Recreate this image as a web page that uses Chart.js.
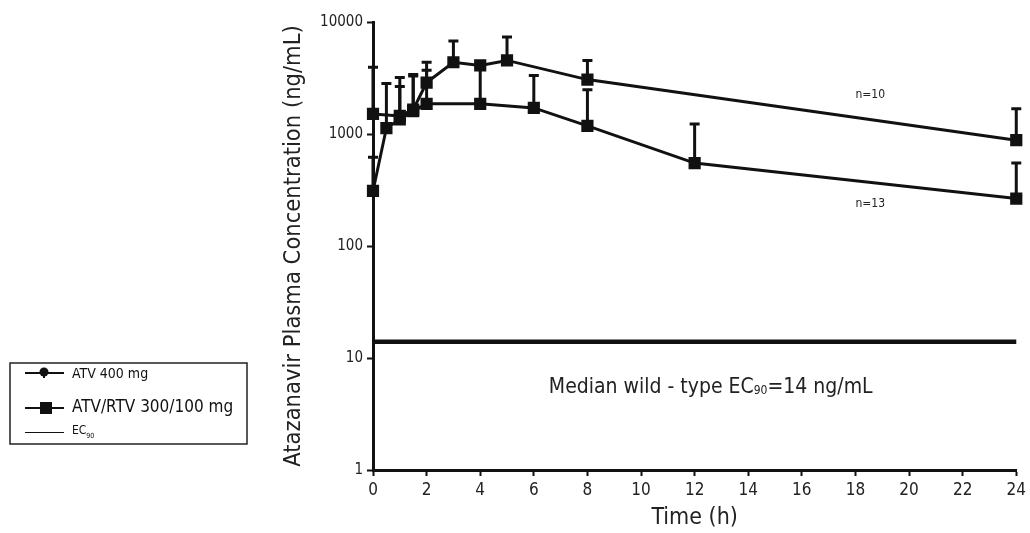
<!DOCTYPE html>
<html lang="en">
<head>
    <meta charset="UTF-8">
    <title>Atazanavir plasma concentration</title>
    <script src="https://cdn.jsdelivr.net/npm/chart.js"></script>
    <style>
        html, body { margin: 0; padding: 0; background: #fff; }
        #wrap { width: 1030px; height: 533px; }
    </style>
</head>
<body>
    <div id="wrap"><canvas id="myChart" width="1030" height="533"></canvas></div>
    <script>
        // ATV 400 mg (lower curve, n=13)
        const atvTimes = [0, 0.5, 1, 1.5, 2, 4, 6, 8, 12, 24]
        const atvMean  = [310, 1130, 1350, 1600, 1860, 1860, 1710, 1180, 550, 265]
        const atvSdTop = [620, 2820, 3200, 3300, 3700, 4000, 3330, 2490, 1230, 550]

        // ATV/RTV 300/100 mg (upper curve, n=10)
        const rtvTimes = [0, 1, 1.5, 2, 3, 4, 5, 8, 24]
        const rtvMean  = [1510, 1450, 1650, 2880, 4370, 4100, 4540, 3060, 880]
        const rtvSdTop = [3940, 2650, 3400, 4370, 6750, null, 7330, 4540, 1680]

        const ec90 = 14
        const xTicks = [0, 2, 4, 6, 8, 10, 12, 14, 16, 18, 20, 22, 24]
        const yTicks = [1, 10, 100, 1000, 10000]

        // text notes: [x (h), y (ng/mL), text]
        const notes = [[18, 2240, 'n=10'], [18, 239, 'n=13']]
        const ecNote = [12.6, 5.4]

        const narrow = '"Liberation Sans Narrow", "Arial Narrow", "DejaVu Sans Condensed", sans-serif'

        function pts(ts, vs) {
            return ts.map((t, i) => ({ x: t, y: vs[i] }))
        }

        const errorBars = {
            id: 'errorBars',
            beforeDatasetsDraw(chart) {
                const ctx = chart.ctx
                const xs = chart.scales.x, ys = chart.scales.y
                const sets = [[atvTimes, atvMean, atvSdTop], [rtvTimes, rtvMean, rtvSdTop]]
                ctx.save()
                ctx.strokeStyle = '#111'
                ctx.lineWidth = 3
                sets.forEach(s => {
                    s[0].forEach((t, i) => {
                        if (s[2][i] == null) return
                        const px = xs.getPixelForValue(t)
                        const y0 = ys.getPixelForValue(s[1][i])
                        const y1 = ys.getPixelForValue(s[2][i])
                        ctx.beginPath()
                        ctx.moveTo(px, y0)
                        ctx.lineTo(px, y1)
                        ctx.moveTo(px - 5, y1)
                        ctx.lineTo(px + 5, y1)
                        ctx.stroke()
                    })
                })
                ctx.restore()
            }
        }

        const notesAndLegend = {
            id: 'notesAndLegend',
            afterDraw(chart) {
                const ctx = chart.ctx
                const xs = chart.scales.x, ys = chart.scales.y
                ctx.save()
                ctx.fillStyle = '#222'
                ctx.textBaseline = 'middle'
                ctx.textAlign = 'left'
                ctx.font = '12px ' + narrow
                notes.forEach(n => {
                    ctx.fillText(n[2], xs.getPixelForValue(n[0]), ys.getPixelForValue(n[1]))
                })

                // EC90 caption
                const cx = xs.getPixelForValue(ecNote[0])
                const cy = ys.getPixelForValue(ecNote[1])
                const big = '21px ' + narrow, small = '12px ' + narrow
                const parts = [['Median wild - type EC', big, 0], ['90', small, 3], ['=14 ng/mL', big, 0]]
                let w = 0
                parts.forEach(p => { ctx.font = p[1]; w += ctx.measureText(p[0]).width })
                let x = cx - w / 2
                parts.forEach(p => {
                    ctx.font = p[1]
                    ctx.fillText(p[0], x, cy + p[2])
                    x += ctx.measureText(p[0]).width
                })

                // legend box
                ctx.strokeStyle = '#222'
                ctx.lineWidth = 1.5
                ctx.strokeRect(10, 363, 237, 81)
                ctx.fillStyle = '#111'
                ctx.strokeStyle = '#111'
                // ATV 400 mg
                ctx.lineWidth = 2
                ctx.beginPath(); ctx.moveTo(25, 373); ctx.lineTo(64, 373); ctx.stroke()
                ctx.beginPath(); ctx.arc(44, 372, 4.5, 0, Math.PI * 2); ctx.fill()
                ctx.fillRect(43, 372, 2, 6)
                ctx.font = '14px ' + narrow
                ctx.fillText('ATV 400 mg', 72, 374)
                // ATV/RTV
                ctx.beginPath(); ctx.moveTo(25, 408); ctx.lineTo(64, 408); ctx.stroke()
                ctx.fillRect(40, 402, 12, 12)
                ctx.font = '17px ' + narrow
                ctx.fillText('ATV/RTV 300/100 mg', 72, 408)
                // EC90
                ctx.lineWidth = 1.2
                ctx.beginPath(); ctx.moveTo(25, 432.5); ctx.lineTo(64, 432.5); ctx.stroke()
                ctx.font = '12px ' + narrow
                ctx.fillText('EC', 72, 431)
                const ew = ctx.measureText('EC').width
                ctx.font = '7px ' + narrow
                ctx.fillText('90', 72 + ew, 436)
                ctx.restore()
            }
        }

        const ctx1 = document.getElementById('myChart').getContext('2d')
        const myChart = new Chart(ctx1, {
            type: 'line',
            data: {
                datasets: [{
                    label: 'ATV 400 mg',
                    data: pts(atvTimes, atvMean),
                    borderColor: '#111',
                    backgroundColor: '#111',
                    borderWidth: 3,
                    pointStyle: 'rect',
                    pointRadius: 6.5,
                    tension: 0
                }, {
                    label: 'ATV/RTV 300/100 mg',
                    data: pts(rtvTimes, rtvMean),
                    borderColor: '#111',
                    backgroundColor: '#111',
                    borderWidth: 3,
                    pointStyle: 'rect',
                    pointRadius: 6.5,
                    tension: 0
                }, {
                    label: 'EC90',
                    data: [{ x: 0, y: ec90 }, { x: 24, y: ec90 }],
                    borderColor: '#111',
                    borderWidth: 4.5,
                    pointRadius: 0
                }]
            },
            options: {
                responsive: false,
                animation: false,
                clip: false,
                layout: { padding: { left: 255, top: 22, right: 11, bottom: 0 } },
                plugins: { legend: { display: false }, tooltip: { enabled: false } },
                scales: {
                    x: {
                        type: 'linear',
                        min: 0,
                        max: 24,
                        afterFit: s => { s.height = 63 },
                        afterBuildTicks: s => { s.ticks = xTicks.map(v => ({ value: v })) },
                        border: { color: '#111', width: 3 },
                        grid: { drawOnChartArea: false, tickLength: 6, tickWidth: 2, tickColor: '#111' },
                        ticks: { color: '#222', padding: 4, font: { family: narrow, size: 17 } },
                        title: { display: true, text: 'Time (h)', color: '#222', padding: { top: 0, bottom: 1 },
                                 font: { family: narrow, size: 23 } }
                    },
                    y: {
                        type: 'logarithmic',
                        min: 1,
                        max: 10000,
                        afterFit: s => { s.width = 118 },
                        afterBuildTicks: s => { s.ticks = yTicks.map(v => ({ value: v })) },
                        border: { color: '#111', width: 3 },
                        grid: { drawOnChartArea: false, tickLength: 6, tickWidth: 2, tickColor: '#111' },
                        ticks: { color: '#222', padding: 4, font: { family: narrow, size: 15 },
                                 callback: v => String(v) },
                        title: { display: true, text: 'Atazanavir Plasma Concentration (ng/mL)', color: '#222',
                                 padding: { top: 25, bottom: 0 }, font: { family: narrow, size: 23.5 } }
                    }
                }
            },
            plugins: [errorBars, notesAndLegend]
        })
    </script>
</body>
</html>
